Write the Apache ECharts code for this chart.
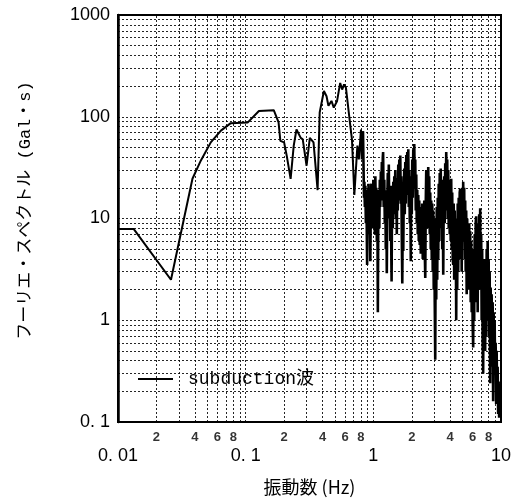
<!DOCTYPE html>
<html>
<head>
<meta charset="utf-8">
<script src="https://cdn.jsdelivr.net/npm/echarts@6/dist/echarts.min.js"></script>
<style>
  html, body { margin: 0; padding: 0; background: #fff; }
  #chart { width: 517px; height: 501px; }
</style>
</head>
<body>
<div id="chart"></div>
<script>
// Fourier spectrum of the "subduction" wave, [frequency Hz, amplitude Gal·s]
const spectrumLow = [
  [0.01, 7.87], [0.0133, 7.87], [0.026, 2.5], [0.0383, 24.6], [0.0445, 37], [0.0533, 56],
  [0.064, 73], [0.0764, 86.5], [0.104, 88], [0.127, 114], [0.166, 116], [0.181, 88],
  [0.187, 58], [0.20, 56], [0.21, 41], [0.225, 24.5], [0.238, 52], [0.25, 75], [0.27, 62],
  [0.28, 60], [0.30, 33], [0.318, 62], [0.34, 56], [0.366, 19], [0.38, 110], [0.41, 179],
  [0.43, 159], [0.445, 128], [0.47, 143], [0.49, 123], [0.52, 143], [0.55, 215], [0.57, 185],
  [0.59, 208], [0.61, 193], [0.63, 200], [0.66, 82], [0.68, 60], [0.71, 17], [0.75, 52],
  [0.77, 38], [0.80, 75], [0.81, 38], [0.83, 72]
];

const spectrumHigh = [
  [0.83, 72],
  [0.845, 16], [0.851, 23], [0.858, 13], [0.866, 21], [0.874, 9], [0.882, 19], [0.894, 3.5],
  [0.902, 17], [0.91, 11], [0.918, 22], [0.926, 7], [0.935, 18], [0.947, 3.8], [0.956, 14],
  [0.965, 22], [0.973, 10], [0.982, 20], [0.991, 8], [1.0, 24],
  [1.009, 11], [1.018, 21], [1.027, 7], [1.037, 26], [1.046, 12], [1.056, 20], [1.065, 6],
  [1.075, 15], [1.085, 1.2], [1.094, 12], [1.104, 19], [1.114, 8], [1.124, 24], [1.134, 13],
  [1.145, 29], [1.155, 15], [1.166, 36], [1.176, 18], [1.186, 40], [1.193, 45], [1.205, 13],
  [1.219, 24], [1.23, 9],
  [1.241, 17], [1.252, 5], [1.264, 19], [1.275, 2.9], [1.287, 15], [1.298, 28], [1.31, 12],
  [1.322, 34], [1.334, 10], [1.346, 21], [1.358, 6], [1.37, 16], [1.39, 2.4], [1.4, 13],
  [1.408, 21], [1.42, 8], [1.433, 23], [1.446, 11], [1.459, 26], [1.472, 14], [1.486, 30],
  [1.5, 10], [1.513, 25], [1.527, 7], [1.54, 21], [1.554, 12], [1.568, 34], [1.582, 15],
  [1.597, 38], [1.611, 19], [1.626, 41.5],
  [1.64, 14], [1.655, 26], [1.67, 7], [1.686, 2.3], [1.70, 12], [1.716, 4.8], [1.731, 19],
  [1.747, 31], [1.763, 11], [1.779, 36], [1.795, 14], [1.811, 42], [1.827, 19], [1.844, 45],
  [1.861, 17], [1.878, 48], [1.895, 13], [1.912, 30], [1.93, 9], [1.947, 22], [1.965, 3.8],
  [1.982, 26], [2.0, 11],
  [2.018, 38], [2.036, 16], [2.055, 47], [2.073, 20], [2.092, 54], [2.111, 22], [2.13, 38],
  [2.15, 12], [2.169, 27], [2.188, 9], [2.208, 19], [2.228, 7], [2.249, 17], [2.269, 6],
  [2.289, 15], [2.31, 5.5], [2.331, 13], [2.352, 4.5], [2.373, 12], [2.395, 5], [2.416, 14],
  [2.438, 4], [2.46, 12], [2.48, 6], [2.505, 15], [2.528, 5], [2.551, 2.6],
  [2.574, 14], [2.597, 30], [2.62, 9], [2.644, 24], [2.668, 8], [2.692, 32], [2.716, 10],
  [2.741, 26], [2.766, 7], [2.791, 18], [2.816, 5], [2.842, 15], [2.868, 4], [2.894, 14],
  [2.92, 3], [2.946, 12], [2.973, 2], [3.0, 10], [3.027, 1.5], [3.054, 0.41], [3.082, 9],
  [3.11, 1.6], [3.138, 13], [3.166, 2.5], [3.195, 16], [3.224, 4],
  [3.253, 22], [3.283, 6], [3.312, 28], [3.342, 8], [3.372, 31], [3.403, 10], [3.434, 24],
  [3.465, 5], [3.496, 18], [3.528, 2.8], [3.56, 15], [3.592, 26], [3.624, 9], [3.657, 35],
  [3.69, 12], [3.724, 45], [3.757, 14], [3.791, 38], [3.825, 10], [3.86, 30], [3.895, 8],
  [3.93, 24], [3.966, 7], [4.002, 20],
  [4.038, 6], [4.074, 24.6], [4.111, 5], [4.148, 18], [4.186, 4], [4.224, 3.5], [4.262, 14],
  [4.3, 2.5], [4.339, 12], [4.379, 3], [4.418, 10], [4.458, 1.0], [4.498, 9], [4.539, 2],
  [4.58, 14], [4.622, 3], [4.664, 16], [4.706, 4], [4.748, 18], [4.791, 19.6], [4.835, 5],
  [4.878, 16], [4.922, 3], [4.967, 20], [5.012, 6], [5.057, 23],
  [5.103, 7], [5.149, 20], [5.196, 4], [5.243, 15], [5.29, 3], [5.338, 12], [5.386, 1.8],
  [5.435, 10], [5.484, 2.5], [5.534, 8], [5.584, 2], [5.634, 9], [5.685, 3], [5.737, 7.5],
  [5.789, 1.5], [5.841, 6], [5.894, 1.2], [5.947, 5], [6.0, 0.9], [6.055, 0.54],
  [6.11, 4], [6.165, 1], [6.221, 7], [6.277, 1.5], [6.334, 9], [6.391, 10.5], [6.449, 2],
  [6.507, 8], [6.566, 1.2], [6.626, 9], [6.686, 2], [6.746, 11], [6.807, 3], [6.869, 12.6],
  [6.93, 2], [6.993, 7],
  [7.056, 1], [7.12, 5], [7.185, 0.6], [7.25, 0.3], [7.315, 4], [7.381, 0.8], [7.448, 3],
  [7.515, 0.5], [7.583, 4], [7.652, 0.7], [7.721, 5], [7.791, 1], [7.861, 6], [7.932, 1.2],
  [8.004, 4], [8.076, 0.7], [8.149, 3], [8.223, 0.24], [8.298, 2.1], [8.373, 0.5], [8.448, 1.8],
  [8.525, 0.35], [8.602, 1.5], [8.679, 0.16], [8.758, 1.2], [8.837, 0.3], [8.917, 1],
  [8.998, 0.3], [9.079, 0.6], [9.161, 0.15], [9.244, 0.5], [9.328, 0.2], [9.412, 0.35],
  [9.497, 0.12], [9.583, 0.25], [9.67, 0.11]
];

// Axis ranges and tick labels
const xDecades = [0.01, 0.1, 1];
const yDecades = [0.1, 1, 10, 100];
const gridMantissas = [1, 2, 3, 4, 5, 6, 7, 8, 9];
const minorLabelMantissas = [2, 4, 6, 8];
const xTickLabels = { '-2': '0. 01', '-1': '0. 1', '0': '1', '1': '10' };
const yTickLabels = { '-1': '0. 1', '0': '1', '1': '10', '2': '100', '3': '1000' };

const X_MIN = 0.01, X_MAX = 10, Y_MIN = 0.1, Y_MAX = 1000;
const SERIES_NAME = 'subduction波';

// dotted grid lines at 1..9 of every decade
const xGrid = [], yGrid = [];
xDecades.forEach(d => gridMantissas.forEach(m => {
  const v = +(d * m).toPrecision(6);
  if (v > X_MIN && v < X_MAX) xGrid.push({ xAxis: v });
}));
yDecades.forEach(d => gridMantissas.forEach(m => {
  const v = +(d * m).toPrecision(6);
  if (v > Y_MIN && v < Y_MAX) yGrid.push({ yAxis: v });
}));

// small "2 4 6 8" labels under the frequency axis
const minorLabelPoints = [];
xDecades.forEach(d => minorLabelMantissas.forEach(m => {
  minorLabelPoints.push({ value: [+(d * m).toPrecision(6), Y_MIN], mant: m });
}));

const expOf = v => Math.round(Math.log10(v));

const chart = echarts.init(document.getElementById('chart'), null, { renderer: 'canvas' });
chart.setOption({
  animation: false,
  backgroundColor: '#fff',
  grid: {
    left: 118, right: 16, top: 15, bottom: 76,
    show: true, borderColor: '#000', borderWidth: 2, backgroundColor: 'transparent'
  },
  legend: {
    left: 133, top: 365,
    icon: 'rect', itemWidth: 35, itemHeight: 2,
    textStyle: {
      fontFamily: '"Liberation Mono", "Noto Sans CJK JP", monospace',
      fontSize: 18, color: '#000', padding: [0, 0, 0, 10]
    },
    data: [SERIES_NAME]
  },
  xAxis: {
    type: 'log', logBase: 10, min: X_MIN, max: X_MAX,
    name: '振動数 (Hz)', nameLocation: 'middle', nameGap: 56,
    nameTextStyle: { fontFamily: '"Noto Sans CJK JP", sans-serif', fontSize: 18, color: '#000' },
    axisLine: { lineStyle: { color: '#000', width: 2 } },
    axisTick: { show: false },
    splitLine: { show: false },
    axisLabel: {
      margin: 25, color: '#000', fontSize: 18,
      fontFamily: '"Liberation Sans", Arial, sans-serif',
      formatter: v => xTickLabels[String(expOf(v))] || ''
    }
  },
  yAxis: {
    type: 'log', logBase: 10, min: Y_MIN, max: Y_MAX,
    name: 'フーリエ・スペクトル (Gal・s)', nameLocation: 'middle', nameGap: 84, nameRotate: 90,
    nameTextStyle: {
      fontFamily: '"Liberation Mono", "Noto Sans CJK JP", monospace', fontSize: 17, color: '#000',
      padding: [0, 0, 0, 16]
    },
    axisLine: { lineStyle: { color: '#000', width: 2.5 } },
    axisTick: { show: false },
    splitLine: { show: false },
    axisLabel: {
      margin: 8, color: '#000', fontSize: 18,
      fontFamily: '"Liberation Sans", Arial, sans-serif',
      formatter: v => yTickLabels[String(expOf(v))] || ''
    }
  },
  series: [
    {
      name: 'grid', type: 'line', data: [], silent: true, z: 1,
      markLine: {
        silent: true, symbol: ['none', 'none'], label: { show: false },
        lineStyle: { color: '#000', width: 1, type: [2, 2], opacity: 0.85 },
        emphasis: { disabled: true },
        data: xGrid.concat(yGrid)
      }
    },
    {
      name: 'minorLabels', type: 'scatter', data: minorLabelPoints, silent: true,
      symbolSize: 1, itemStyle: { color: 'rgba(0,0,0,0)' }, z: 1,
      label: {
        show: true, position: 'bottom', distance: 8, color: '#000',
        fontSize: 13, fontWeight: 'bold', fontFamily: '"Liberation Sans", Arial, sans-serif',
        formatter: p => String(p.data.mant)
      }
    },
    {
      name: SERIES_NAME, type: 'line', z: 3,
      data: spectrumLow,
      showSymbol: false, symbol: 'none',
      lineStyle: { color: '#000', width: 2 },
      itemStyle: { color: '#000' },
      emphasis: { disabled: true }
    },
    {
      // dense high-frequency part of the same spectrum, drawn a little heavier
      name: SERIES_NAME, type: 'line', z: 3,
      data: spectrumHigh,
      showSymbol: false, symbol: 'none',
      lineStyle: { color: '#000', width: 2.6 },
      itemStyle: { color: '#000' },
      emphasis: { disabled: true }
    }
  ]
});
</script>
</body>
</html>
